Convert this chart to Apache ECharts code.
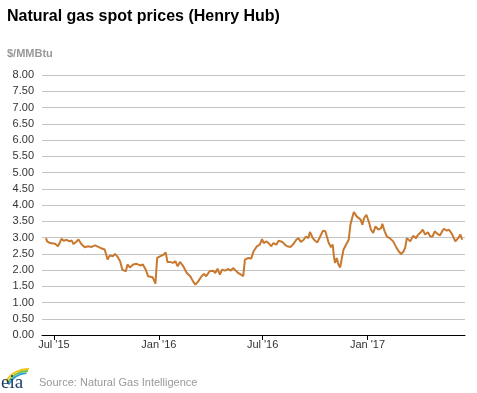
<!DOCTYPE html>
<html>
<head>
<meta charset="utf-8">
<script src="https://cdn.jsdelivr.net/npm/echarts@6/dist/echarts.min.js"></script>
<style>html,body{margin:0;padding:0;background:#fff}#c{width:477px;height:393px}</style>
</head>
<body>
<div id="c"></div>
<script>
const dates = [
'2015-06-17','2015-06-19','2015-06-24','2015-07-03','2015-07-08','2015-07-11','2015-07-14','2015-07-18','2015-07-23','2015-07-28',
'2015-08-01','2015-08-04','2015-08-08','2015-08-13','2015-08-18','2015-08-24','2015-08-30','2015-09-05','2015-09-11','2015-09-17',
'2015-09-23','2015-09-28','2015-09-30','2015-10-03','2015-10-07','2015-10-12','2015-10-16','2015-10-20','2015-10-25','2015-10-29',
'2015-11-04','2015-11-07','2015-11-11','2015-11-17','2015-11-23','2015-11-29','2015-12-04','2015-12-09','2015-12-13','2015-12-16',
'2015-12-21','2015-12-26','2015-12-29','2016-01-03','2016-01-09','2016-01-13','2016-01-16','2016-01-20','2016-01-26','2016-01-30',
'2016-02-03','2016-02-07','2016-02-13','2016-02-19','2016-02-25','2016-03-01','2016-03-05','2016-03-10','2016-03-16','2016-03-20',
'2016-03-24','2016-03-30','2016-04-05','2016-04-09','2016-04-13','2016-04-17','2016-04-21','2016-04-26','2016-05-02','2016-05-06',
'2016-05-10','2016-05-15','2016-05-19','2016-05-24','2016-05-28','2016-05-31','2016-06-06','2016-06-11','2016-06-15','2016-06-21',
'2016-06-26','2016-06-30','2016-07-03','2016-07-08','2016-07-13','2016-07-16','2016-07-20','2016-07-25','2016-07-29','2016-08-01',
'2016-08-05','2016-08-09','2016-08-13','2016-08-19','2016-08-24','2016-08-29','2016-09-02','2016-09-06','2016-09-11','2016-09-15',
'2016-09-19','2016-09-22','2016-09-27','2016-10-01','2016-10-05','2016-10-10','2016-10-15','2016-10-19','2016-10-22','2016-10-25',
'2016-10-29','2016-11-01','2016-11-03','2016-11-05','2016-11-08','2016-11-11','2016-11-14','2016-11-17','2016-11-20','2016-11-25',
'2016-11-29','2016-12-02','2016-12-05','2016-12-08','2016-12-13','2016-12-16','2016-12-20','2016-12-23','2016-12-26','2016-12-30',
'2017-01-01','2017-01-04','2017-01-07','2017-01-11','2017-01-15','2017-01-20','2017-01-25','2017-01-27','2017-01-31','2017-02-04',
'2017-02-06','2017-02-09','2017-02-12','2017-02-15','2017-02-18','2017-02-21','2017-02-25','2017-03-01','2017-03-05','2017-03-08',
'2017-03-11','2017-03-14','2017-03-17','2017-03-20','2017-03-22','2017-03-27','2017-03-31','2017-04-05','2017-04-08','2017-04-12',
'2017-04-17','2017-04-21','2017-04-25','2017-04-29','2017-05-04','2017-05-08','2017-05-12','2017-05-15','2017-05-20','2017-05-24',
'2017-05-29','2017-06-01','2017-06-04','2017-06-09','2017-06-13','2017-06-16'
];
const prices = [
2.98,2.88,2.83,2.81,2.73,2.83,2.96,2.90,2.93,2.88,
2.91,2.80,2.85,2.94,2.80,2.70,2.73,2.71,2.76,2.71,
2.66,2.63,2.68,2.32,2.45,2.42,2.49,2.42,2.27,2.01,
1.96,2.17,2.08,2.17,2.19,2.14,2.17,2.01,1.81,1.76,
1.78,1.58,2.37,2.42,2.47,2.54,2.25,2.25,2.22,2.27,
2.11,2.25,2.11,1.91,1.81,1.65,1.55,1.65,1.81,1.88,
1.81,1.96,1.98,1.91,2.04,1.86,2.01,1.98,2.03,1.98,
2.06,1.98,1.91,1.86,1.81,2.32,2.37,2.35,2.57,2.73,
2.78,2.95,2.83,2.88,2.80,2.73,2.83,2.78,2.90,2.95,
2.86,2.78,2.73,2.71,2.80,2.93,2.98,2.86,2.93,3.03,
2.98,3.17,2.98,2.90,2.85,3.03,3.21,3.19,3.24,2.83,
2.70,2.78,2.42,2.22,2.37,2.17,2.08,2.37,2.63,2.80,
2.93,3.39,3.60,3.78,3.65,3.62,3.55,3.39,3.60,3.70,
3.65,3.45,3.24,3.14,3.34,3.24,3.29,3.42,3.19,3.03,
3.09,2.98,3.03,2.88,2.78,2.68,2.57,2.49,2.57,2.68,
2.98,3.03,2.88,2.93,3.05,2.98,3.09,3.17,3.24,3.09,
3.16,3.03,3.03,3.19,3.11,3.06,3.19,3.27,3.21,3.24,
3.11,3.14,2.88,2.98,3.09,2.93
];
const xTicks = ['2015-07-01','2016-01-01','2016-07-01','2017-01-01'];
const monthNames = ['Jan','Feb','Mar','Apr','May','Jun','Jul','Aug','Sep','Oct','Nov','Dec'];

function ts(s){ const p = s.split('-').map(Number); return Date.UTC(p[0], p[1]-1, p[2]); }
const seriesData = dates.map((d,i)=>[ts(d), prices[i]]);
const tickVals = xTicks.map(ts);
const FONT = '"Liberation Sans", Arial, sans-serif';
const deg = Math.PI / 180;

const chart = echarts.init(document.getElementById('c'), null, {renderer:'canvas'});
chart.setOption({
  animation: false,
  backgroundColor: '#fff',
  textStyle: { fontFamily: FONT },
  title: [
    { text: 'Natural gas spot prices (Henry Hub)', left: 2, top: 4,
      textStyle: { fontSize: 16, fontWeight: 'bold', color: '#000', fontFamily: FONT } },
    { text: '$/MMBtu', left: 2, top: 43,
      textStyle: { fontSize: 11, fontWeight: 'bold', color: '#999', fontFamily: FONT } }
  ],
  grid: { left: 42, right: 12, top: 75, bottom: 58, containLabel: false },
  xAxis: {
    type: 'value',
    min: ts('2015-06-10'),
    max: ts('2017-06-21'),
    axisLine: { show: true, onZero: false, lineStyle: { color: '#000', width: 1 } },
    axisTick: { show: true, customValues: tickVals, length: 5, lineStyle: { color: '#000' } },
    axisLabel: {
      customValues: tickVals,
      color: '#333', fontSize: 11, fontFamily: FONT, margin: 4,
      formatter: function (v) { const d = new Date(v); return monthNames[d.getUTCMonth()] + " '" + String(d.getUTCFullYear()).slice(2); }
    },
    splitLine: { show: false }
  },
  yAxis: {
    type: 'value', min: 0, max: 8, interval: 0.5,
    axisLine: { show: false }, axisTick: { show: false },
    axisLabel: { color: '#333', fontSize: 11, fontFamily: FONT, margin: 8, formatter: v => v.toFixed(2) },
    splitLine: { lineStyle: { color: '#c4c4c4', width: 1 } }
  },
  series: [{
    type: 'line', data: seriesData, showSymbol: false, symbol: 'none',
    lineStyle: { color: '#c8792f', width: 2 }, z: 3
  }],
  graphic: [
    { type: 'arc', shape: { cx: 28, cy: 395, r: 26, startAngle: 212*deg, endAngle: 272*deg }, style: { stroke: '#f2c318', lineWidth: 1.8, fill: null } },
    { type: 'arc', shape: { cx: 28, cy: 395, r: 24, startAngle: 210*deg, endAngle: 270*deg }, style: { stroke: '#7bbf3f', lineWidth: 1.8, fill: null } },
    { type: 'arc', shape: { cx: 28, cy: 395, r: 22, startAngle: 208*deg, endAngle: 266*deg }, style: { stroke: '#2a9fd8', lineWidth: 1.8, fill: null } },
    { type: 'text', style: { x: 1, y: 393, text: 'eia', font: '19px "Liberation Serif", serif', fill: '#1f3d6b', textVerticalAlign: 'bottom' } },
    { type: 'text', left: 39, top: 377, style: { text: 'Source: Natural Gas Intelligence', font: '11px "Liberation Sans", Arial, sans-serif', fill: '#999' } }
  ]
});
</script>
</body>
</html>
